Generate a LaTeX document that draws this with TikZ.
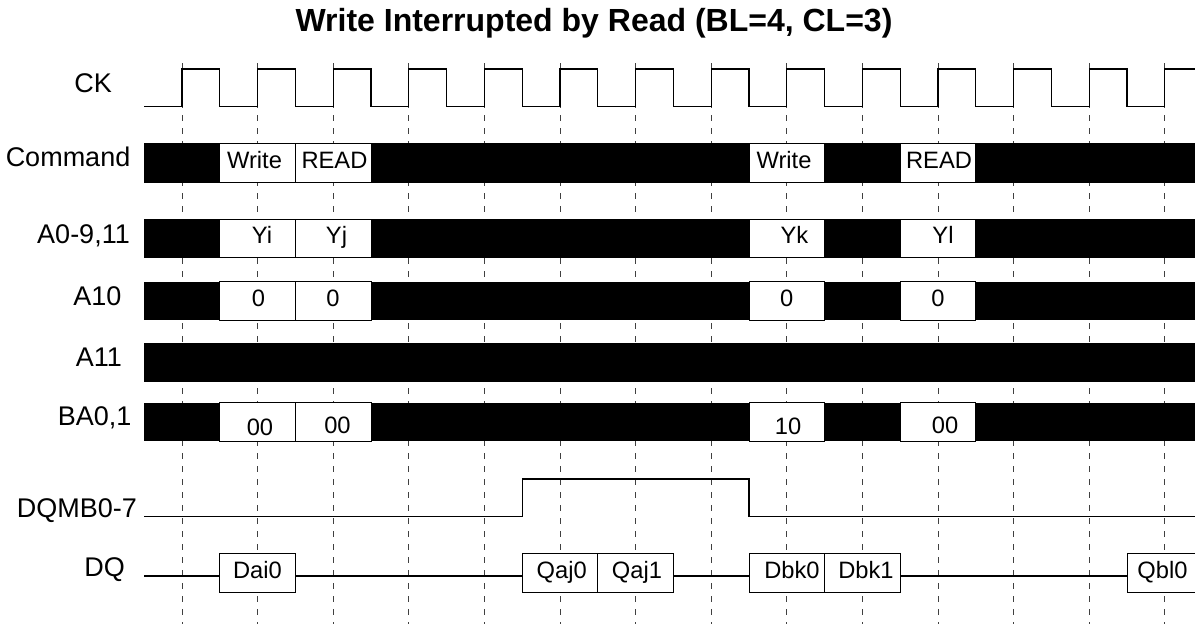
\documentclass[tikz,border=0pt]{standalone}
\usepackage{fontspec}
\setmainfont{Liberation Sans}
\begin{document}
\begin{tikzpicture}[x=1pt,y=-1pt,
  sig/.style={line width=1.2pt, draw=black},
  gridline/.style={draw=black!75, line width=1pt, dash pattern=on 6pt off 7pt},
  bar/.style={fill=black},
  box/.style={draw=black, line width=1pt, fill=white, minimum width=75.6pt, minimum height=38.5pt, inner sep=0pt, outer sep=0pt},
  lab/.style={anchor=base east, inner sep=0pt, font=\fontsize{27}{32}\selectfont},
  txt/.style={anchor=base, inner sep=0pt, font=\fontsize{23.7}{28}\selectfont},
  ttl/.style={anchor=base, inner sep=0pt, font=\fontsize{32}{38}\selectfont\bfseries},
]
\useasboundingbox (0,0) rectangle (1195,624);

% title
\node[ttl] (title) at (594,31.7) {Write Interrupted by Read (BL=4, CL=3)};

% grid lines at rising clock edges
\foreach \i in {0,...,13}
  \draw[gridline] (182+\i*75.6,63) -- (182+\i*75.6,624);

% clock
\draw[sig] (144,106.7)
  \foreach \i in {0,...,12} { -- (182+\i*75.6,106.7) -- ++(0,-37.7) -- ++(37.8,0) -- ++(0,37.7) }
  -- (1164.8,106.7) -- (1164.8,69) -- (1196,69);

% bars
\fill[bar] (144,143.3) rectangle (1196,182.7);
\fill[bar] (144,219.3) rectangle (1196,257.7);
\fill[bar] (144,281.7) rectangle (1196,320);
\fill[bar] (144,342.7) rectangle (1196,382.3);
\fill[bar] (144,403.3) rectangle (1196,441);

% Command boxes
\node[box] (cw1) at (257.6,163) {};
\node[box] (cr1) at (333.2,163) {};
\node[box] (cw2) at (786.8,163) {};
\node[box] (cr2) at (938,163) {};
\node[txt] (tcw1) at (254.5,168.3) {Write};
\node[txt] (tcr1) at (334.5,168.3) {READ};
\node[txt] (tcw2) at (784,168.3) {Write};
\node[txt] (tcr2) at (939,168.3) {READ};

% A0-9,11 boxes
\node[box] (ai) at (257.6,238.5) {};
\node[box] (aj) at (333.2,238.5) {};
\node[box] (ak) at (786.8,238.5) {};
\node[box] (al) at (938,238.5) {};
\node[txt] (tai) at (262,243.3) {Yi};
\node[txt] (taj) at (336.5,243.3) {Yj};
\node[txt] (tak) at (794.5,243.3) {Yk};
\node[txt] (tal) at (943,243.3) {Yl};

% A10 boxes
\node[box] (p1) at (257.6,300.8) {};
\node[box] (p2) at (333.2,300.8) {};
\node[box] (p3) at (786.8,300.8) {};
\node[box] (p4) at (938,300.8) {};
\node[txt] (tp1) at (258.5,306.7) {0};
\node[txt] (tp2) at (333,306.7) {0};
\node[txt] (tp3) at (786.7,306.7) {0};
\node[txt] (tp4) at (938,306.7) {0};

% BA0,1 boxes
\node[box] (b1) at (257.6,422.2) {};
\node[box] (b2) at (333.2,422.2) {};
\node[box] (b3) at (786.8,422.2) {};
\node[box] (b4) at (938,422.2) {};
\node[txt] (tb1) at (260,435) {00};
\node[txt] (tb2) at (337.5,433) {00};
\node[txt] (tb3) at (788,434) {10};
\node[txt] (tb4) at (945,433) {00};

% DQMB0-7
\draw[sig] (144,516.7) -- (522.2,516.7) -- (522.2,479) -- (749,479) -- (749,516.7) -- (1196,516.7);

% DQ
\draw[sig] (144,576) -- (1196,576);
\node[box] (d1) at (257.6,573.2) {};
\node[box] (q1) at (560,573.2) {};
\node[box] (q2) at (635.6,573.2) {};
\node[box] (d2) at (786.8,573.2) {};
\node[box] (d3) at (862.4,573.2) {};
\node[box] (q3) at (1164.8,573.2) {};
\node[txt] (td1) at (257.5,578.3) {Dai0};
\node[txt] (tq1) at (561.7,578.3) {Qaj0};
\node[txt] (tq2) at (637,578.3) {Qaj1};
\node[txt] (td2) at (792,578.3) {Dbk0};
\node[txt] (td3) at (866,578.3) {Dbk1};
\node[txt] (tq3) at (1162.5,578.3) {Qbl0};

% labels
\node[lab] (lck) at (112,92) {CK};
\node[lab] (lcmd) at (130.5,166.7) {Command};
\node[lab] (la0) at (130,243.3) {A0-9,11};
\node[lab] (la10) at (121.7,305) {A10};
\node[lab] (la11) at (122,366.7) {A11};
\node[lab] (lba) at (131.7,425) {BA0,1};
\node[lab] (ldqm) at (137,517) {DQMB0-7};
\node[lab] (ldq) at (125,576.5) {DQ};
\end{tikzpicture}
\end{document}
